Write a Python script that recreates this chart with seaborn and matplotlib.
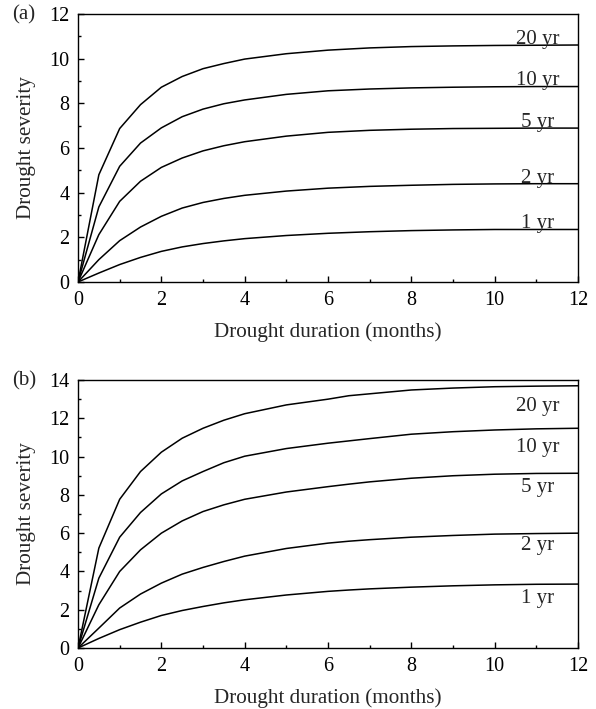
import matplotlib
matplotlib.use("Agg")
import matplotlib.pyplot as plt
import seaborn as sns
import pandas as pd
from matplotlib.ticker import MultipleLocator

# return periods
periods = ['1 yr', '2 yr', '5 yr', '10 yr', '20 yr']

# (a) drought duration (months) and severity curves
dur_a = [0, 0.5, 1, 1.5, 2, 2.5, 3, 3.5, 4, 5, 6, 7, 8, 9, 10, 11, 12]
a_1yr = [0, 0.40, 0.78, 1.10, 1.37, 1.57, 1.72, 1.84, 1.94, 2.08, 2.18, 2.25, 2.30, 2.33, 2.35, 2.35, 2.35]
a_2yr = [0, 1.00, 1.85, 2.46, 2.94, 3.31, 3.56, 3.74, 3.88, 4.07, 4.20, 4.28, 4.33, 4.37, 4.39, 4.40, 4.40]
a_5yr = [0, 2.12, 3.61, 4.51, 5.13, 5.55, 5.87, 6.10, 6.28, 6.53, 6.70, 6.79, 6.84, 6.87, 6.88, 6.89, 6.89]
a_10yr = [0, 3.36, 5.18, 6.22, 6.90, 7.40, 7.74, 7.98, 8.15, 8.40, 8.56, 8.64, 8.69, 8.72, 8.74, 8.75, 8.75]
a_20yr = [0, 4.80, 6.87, 7.94, 8.72, 9.20, 9.55, 9.78, 9.98, 10.22, 10.38, 10.48, 10.54, 10.57, 10.59, 10.60, 10.61]

# (b)
dur_b = [0, 0.5, 1, 1.5, 2, 2.5, 3, 3.5, 4, 5, 6, 6.5, 7, 8, 9, 10, 11, 12]
b_1yr = [0, 0.50, 0.96, 1.35, 1.70, 1.96, 2.17, 2.36, 2.52, 2.77, 2.96, 3.03, 3.09, 3.18, 3.25, 3.30, 3.33, 3.34]
b_2yr = [0, 1.04, 2.09, 2.82, 3.39, 3.86, 4.21, 4.52, 4.80, 5.20, 5.48, 5.58, 5.66, 5.79, 5.88, 5.95, 5.98, 6.00]
b_5yr = [0, 2.26, 4.00, 5.13, 6.00, 6.64, 7.13, 7.48, 7.77, 8.15, 8.43, 8.56, 8.68, 8.87, 9.00, 9.08, 9.12, 9.13]
b_10yr = [0, 3.65, 5.79, 7.08, 8.05, 8.73, 9.22, 9.68, 10.02, 10.42, 10.70, 10.82, 10.94, 11.17, 11.30, 11.39, 11.45, 11.48]
b_20yr = [0, 5.22, 7.77, 9.22, 10.23, 10.96, 11.48, 11.90, 12.24, 12.70, 13.00, 13.18, 13.28, 13.48, 13.58, 13.65, 13.68, 13.70]

# label anchors
lab_x = 11.04
lab_a_y = [2.35, 4.40, 6.89, 8.75, 10.61]
lab_b_y = [2.57, 5.36, 8.40, 10.50, 12.60]


def to_long(dur, curves):
    rows = []
    for p, vals in zip(periods, curves):
        for d, v in zip(dur, vals):
            rows.append({'duration': d, 'severity': v, 'period': p})
    return pd.DataFrame(rows)


df_a = to_long(dur_a, [a_1yr, a_2yr, a_5yr, a_10yr, a_20yr])
df_b = to_long(dur_b, [b_1yr, b_2yr, b_5yr, b_10yr, b_20yr])

sns.set_style('ticks')
plt.rcParams['font.family'] = ['Liberation Serif', 'DejaVu Serif']
plt.rcParams['font.size'] = 15

fig = plt.figure(figsize=(5.96, 7.09), dpi=100)
ax_a = fig.add_axes([0.1309, 0.6023, 0.8389, 0.3780])
ax_b = fig.add_axes([0.1309, 0.0860, 0.8389, 0.3780])

for ax, df, ymax in [(ax_a, df_a, 12), (ax_b, df_b, 14)]:
    sns.lineplot(data=df, x='duration', y='severity', hue='period',
                 palette=['black'] * 5, estimator=None, legend=False,
                 linewidth=1.1, ax=ax)
    ax.set_xlim(0, 12)
    ax.set_ylim(0, ymax)
    ax.xaxis.set_major_locator(MultipleLocator(2))
    ax.xaxis.set_minor_locator(MultipleLocator(1))
    ax.yaxis.set_major_locator(MultipleLocator(2))
    ax.yaxis.set_minor_locator(MultipleLocator(1))
    ax.tick_params(which='both', direction='in', labelsize=14.5, colors='black')
    ax.tick_params(which='major', length=4, width=1)
    ax.tick_params(which='minor', length=2.5, width=1)
    ax.tick_params(axis='y', pad=6)
    ax.tick_params(axis='x', pad=6.5)
    for s in ax.spines.values():
        s.set_linewidth(1)
        s.set_color('black')
    ax.set_xlabel('Drought duration (months)', fontsize=15.2, labelpad=9)
    ax.set_ylabel('Drought severity', fontsize=15.2, labelpad=10)

for p, y in zip(periods, lab_a_y):
    ax_a.text(lab_x, y + 0.05, p, ha='center', va='baseline', fontsize=15)
for p, y in zip(periods, lab_b_y):
    ax_b.text(lab_x, y, p, ha='center', va='center', fontsize=15)

fig.text(12 / 596, 1 - 15 / 709, '(a)', ha='left', va='center', fontsize=15)
fig.text(12 / 596, 1 - 381 / 709, '(b)', ha='left', va='center', fontsize=15)

fig.savefig('out.png', dpi=100)
